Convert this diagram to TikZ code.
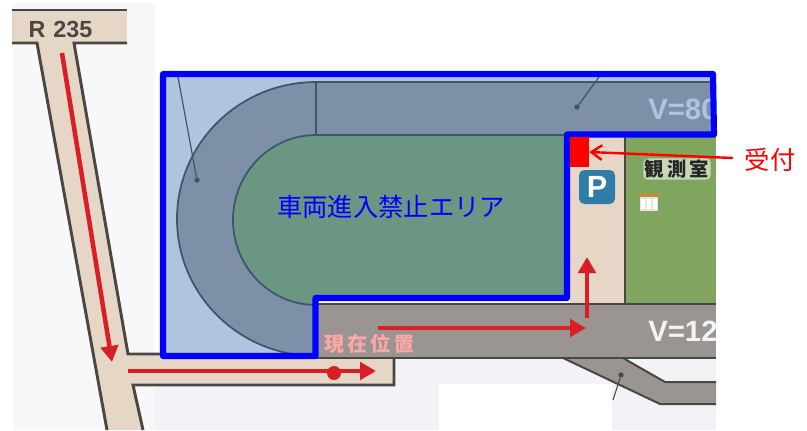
\documentclass[tikz,border=0pt]{standalone}
\usepackage{fontspec}
\setmainfont{Liberation Sans}
\newfontfamily\cjk{Noto Sans CJK JP}
\usetikzlibrary{arrows.meta}
\definecolor{pale}{HTML}{F8F8FB}
\definecolor{palelow}{HTML}{F2F2F7}
\definecolor{sand}{HTML}{E6D6C6}
\definecolor{edge}{HTML}{4A4742}
\definecolor{sky}{HTML}{AFC4DE}
\definecolor{track}{HTML}{7E8FA8}
\definecolor{trackedge}{HTML}{3E566C}
\definecolor{infield}{HTML}{6A9683}
\definecolor{lawn}{HTML}{7FA55F}
\definecolor{asphalt}{HTML}{9A9593}
\definecolor{routered}{HTML}{D91F26}
\definecolor{pblue}{HTML}{2F7CA8}
\tikzset{
  x=0.75pt,y=-0.75pt,
  roadedge/.style={draw=edge,line width=2.2pt},
  trackline/.style={draw=trackedge,line width=1.3pt},
  route/.style={draw=routered,line width=3.4pt,-{Triangle[length=12pt,width=13pt]}},
  bluebox/.style={draw=blue,line width=4.6pt,line join=round},
  leader/.style={draw=trackedge,line width=0.9pt},
  dotmark/.style={circle,fill=#1,inner sep=0pt,minimum size=4pt},
  lbl/.style={inner sep=0pt,font=\cjk},
}
\begin{document}
\begin{tikzpicture}
\useasboundingbox (0,0) rectangle (807,430);
% paper
\fill[pale] (13,3) rectangle (155,430);
\fill[palelow] (155,359) rectangle (716,430);
\fill[white] (439,384) rectangle (612,430);
% R235 road
\fill[sand] (12,10) rectangle (127,43);
\fill[sand] (37,43) -- (74,43) -- (128,354) -- (394,354) -- (394,385) -- (133,385) -- (143,430) -- (107,430) -- cycle;
\draw[roadedge] (12,10) -- (127,10);
\draw[roadedge] (12,43) -- (37,43) -- (107,430);
\draw[roadedge] (127,43) -- (74,43) -- (128,354) -- (394,354) -- (394,385) -- (133,385) -- (143,430);
\node[font=\bfseries,text=edge,inner sep=0pt] (r235) at (60.5,29) {\fontsize{17.5}{18}\selectfont R\,\,235};
% sky panel
\fill[sky] (163,74) rectangle (713,134);
\fill[sky] (163,134) rectangle (316,356);
% track band
\fill[track] (316,82) -- (713,82) -- (713,135) -- (316,135) -- cycle;
\fill[track] (316,82) arc[start angle=270,end angle=90,x radius=139,y radius=137] -- cycle;
% infield
\fill[infield] (316,135) -- (567,135) -- (567,298) -- (316,298) -- (316,305) arc[start angle=90,end angle=270,x radius=83,y radius=85] -- cycle;
\draw[trackline] (316,82) arc[start angle=270,end angle=90,x radius=139,y radius=137];
\draw[trackline] (316,305) arc[start angle=90,end angle=270,x radius=83,y radius=85] -- (567,135);
\draw[trackline] (316,82) -- (713,82);
\draw[draw=trackedge,line width=1.6pt] (316,82) -- (316,135);
% leaders
\coordinate (la) at (178,77);
\node[dotmark=trackedge] (lda) at (197,180) {};
\draw[leader] (la) -- (lda);
\coordinate (lb) at (599,77);
\node[dotmark=trackedge] (ldb) at (577,107) {};
\draw[leader] (lb) -- (ldb);
% V=80
\begin{scope}
\clip (620,84) rectangle (710,132);
\node[text=sky,font=\bfseries,inner sep=0pt,anchor=west] (vtop) at (648,109) {\fontsize{22}{23}\selectfont V=80};
\end{scope}
% beige column and observatory lawn
\fill[sand] (570,137) rectangle (624,303);
\fill[lawn] (626,137) rectangle (716,303);
\draw[draw=edge,line width=1.6pt] (625,137) -- (625,303);
% lower road
\fill[asphalt] (316,304) rectangle (716,358);
\fill[asphalt] (563,358) -- (623,358) -- (665,382) -- (716,382) -- (716,404) -- (660,404) -- cycle;
\draw[draw=edge,line width=1.8pt] (316,304) -- (716,304);
\draw[draw=edge,line width=1.8pt] (316,358) -- (716,358);
\draw[draw=edge,line width=1.5pt] (563,358) -- (660,404) -- (716,404);
\draw[draw=edge,line width=1.5pt] (623,358) -- (665,382) -- (716,382);
\node[dotmark=edge] (ldc) at (621,375) {};
\coordinate (lc) at (613,400);
\draw[draw=edge,line width=0.8pt] (ldc) -- (lc);
\begin{scope}
\clip (620,310) rectangle (716,352);
\node[text=white!90!asphalt,font=\bfseries,inner sep=0pt,anchor=west] (vlow) at (648,331) {\fontsize{22}{23}\selectfont V=12};
\end{scope}
% blue area text
\node[lbl,text=blue] (zone) at (391,207) {\fontsize{19}{20}\selectfont 車両進入禁止エリア};
% P mark
\node[fill=pblue,rounded corners=4pt,minimum width=27pt,minimum height=25.5pt,inner sep=0pt,text=white,font=\bfseries] (pmark) at (597,187) {\fontsize{23}{24}\selectfont P};
% observatory
\node[lbl,fill=white!55!lawn,rounded corners=3pt,inner xsep=1pt,inner ysep=1pt,text=black!85,font=\cjk\bfseries] (obs) at (677,169) {\fontsize{14.5}{15}\selectfont 観\,測\,室};
\node[fill=sand!70!white,minimum width=14pt,minimum height=10pt,inner sep=0pt] (hut) at (649,204) {};
\draw[draw=orange!55!brown,line width=1.2pt] (638,195) -- (660,195);
\foreach \hx in {643,649,655}{\fill[white] (\hx-1.8,199) rectangle (\hx+1.8,209);}
% current position text
\node[lbl,text=red!35!white,font=\cjk\bfseries] (here) at (369,344) {\fontsize{15}{16}\selectfont 現\,在\,位\,置};
% routes
\coordinate (ra) at (62,53);
\coordinate (rb) at (112,362);
\draw[route] (ra) -- (rb);
\coordinate (rc) at (128,371);
\coordinate (rd) at (376,371);
\draw[route] (rc) -- (rd);
\node[circle,fill=routered,inner sep=0pt,minimum size=10.5pt] (now) at (334,373) {};
\coordinate (re) at (378,328);
\coordinate (rf) at (586,328);
\draw[route] (re) -- (rf);
\coordinate (rg) at (587,318);
\coordinate (rh) at (587,257);
\draw[route] (rg) -- (rh);
% zone outline
\draw[bluebox] (163,74) -- (713,74) -- (714,134.5) -- (567,134.5) -- (567,298) -- (315.5,298) -- (315.5,356) -- (163,356) -- cycle;
% reception
\node[fill=red,minimum width=14.2pt,minimum height=22.5pt,inner sep=0pt] (desk) at (579.5,152) {};
\node[lbl,text=red] (recv) at (770,160) {\fontsize{19}{20}\selectfont 受付};
\coordinate (recvtail) at (733,158);
\draw[draw=red,line width=1.8pt,-{Straight Barb[length=8pt,width=11pt]}] (recvtail) -- (desk.east);
\end{tikzpicture}
\end{document}
